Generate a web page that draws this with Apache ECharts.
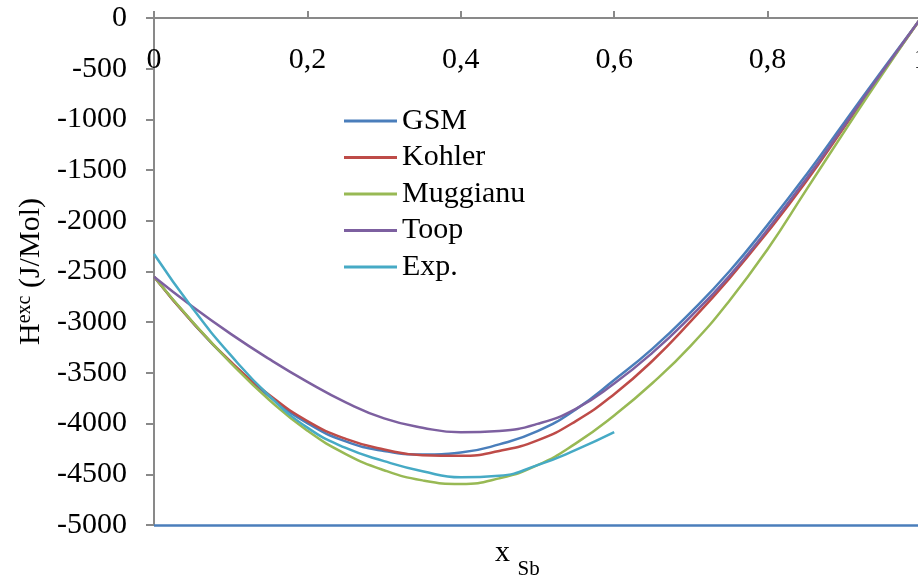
<!DOCTYPE html>
<html>
<head>
<meta charset="utf-8">
<script src="https://cdn.jsdelivr.net/npm/echarts@6/dist/echarts.min.js"></script>
<style>
  html, body { margin: 0; padding: 0; background: #fff; }
  #chart { width: 918px; height: 585px; }
</style>
</head>
<body>
<div id="chart"></div>
<script>
// Hexc vs x Sb - model curves and experimental data
var xs = [0, 0.05, 0.1, 0.15, 0.2, 0.25, 0.3, 0.35, 0.4, 0.45, 0.5, 0.55, 0.6, 0.65, 0.7, 0.75, 0.8, 0.85, 0.9, 0.95, 1];
var gsm = [-2551, -3000, -3395, -3730, -3995, -4175, -4270, -4305, -4285, -4205, -4075, -3860, -3570, -3260, -2900, -2500, -2040, -1550, -1030, -510, 0];
var kohler = [-2551, -3000, -3390, -3715, -3975, -4150, -4255, -4312, -4318, -4270, -4165, -3975, -3710, -3380, -2990, -2570, -2110, -1615, -1075, -535, 0];
var muggianu = [-2551, -2995, -3400, -3765, -4070, -4300, -4460, -4560, -4595, -4540, -4410, -4195, -3920, -3600, -3230, -2790, -2280, -1700, -1120, -550, 0];
var toop = [-2551, -2845, -3115, -3362, -3588, -3790, -3948, -4040, -4085, -4072, -4003, -3855, -3605, -3300, -2942, -2545, -2085, -1590, -1060, -525, 0];
var xsExp = [0, 0.05, 0.1, 0.15, 0.2, 0.25, 0.3, 0.35, 0.4, 0.45, 0.5, 0.55, 0.6];
var exp = [-2327, -2860, -3325, -3725, -4040, -4240, -4370, -4470, -4530, -4515, -4410, -4260, -4085];
var baseLine = -5000;

var names = ['GSM', 'Kohler', 'Muggianu', 'Toop', 'Exp.'];
var colors = ['#4a7ebb', '#be4b48', '#98b954', '#7d60a0', '#46aac5'];
var font = 'Liberation Serif';

function pairs(x, y) { return x.map(function (v, i) { return [v, y[i]]; }); }

var chart = echarts.init(document.getElementById('chart'), null, { renderer: 'canvas' });

function line(i, x, y) {
  return {
    name: names[i], type: 'line', data: pairs(x, y), smooth: 0.5, symbol: 'none',
    lineStyle: { color: colors[i], width: 2.5 }, itemStyle: { color: colors[i] }, z: 3
  };
}

var gsmSeries = line(0, xs, gsm);
gsmSeries.markLine = {
  silent: true, symbol: 'none', label: { show: false },
  lineStyle: { color: colors[0], width: 2.5, type: 'solid' },
  data: [{ yAxis: baseLine }]
};

chart.setOption({
  animation: false,
  backgroundColor: '#fff',
  textStyle: { fontFamily: font },
  grid: { left: 154, right: -3, top: 18, bottom: 60, outerBoundsMode: 'none' },
  legend: {
    data: names, orient: 'vertical', left: 339, top: 101,
    icon: 'rect', itemWidth: 53, itemHeight: 3, itemGap: 6.5,
    selectedMode: false,
    textStyle: { fontFamily: font, fontSize: 30, color: '#000' }
  },
  graphic: [
    {
      type: 'text', left: 495, top: 538,
      style: {
        text: '{x|x }{sub|Sb}',
        rich: {
          x: { fontFamily: font, fontSize: 30, lineHeight: 30, verticalAlign: 'top', fill: '#000' },
          sub: { fontFamily: font, fontSize: 21, lineHeight: 21, padding: [21, 0, 0, 0], verticalAlign: 'top', fill: '#000' }
        }
      }
    }
  ],
  xAxis: {
    type: 'value', position: 'top', min: 0, max: 1, interval: 0.2,
    axisLine: { onZero: false, lineStyle: { color: '#898989', width: 2 } },
    axisTick: { show: true, inside: false, length: 7, lineStyle: { color: '#898989', width: 2 } },
    axisLabel: {
      inside: true, margin: 27, color: '#000', fontFamily: font, fontSize: 30,
      formatter: function (v) { return String(+v.toFixed(1)).replace('.', ','); }
    },
    splitLine: { show: false }
  },
  yAxis: {
    type: 'value', min: -5000, max: 0, interval: 500,
    name: '{h|H}{sup|exc}{h| (J/Mol)}', nameLocation: 'middle', nameRotate: 90, nameGap: 105,
    nameTextStyle: {
      rich: {
        h: { fontFamily: font, fontSize: 30, lineHeight: 32, color: '#000' },
        sup: { fontFamily: font, fontSize: 20, lineHeight: 20, verticalAlign: 'top', color: '#000' }
      }
    },
    axisLine: { show: true, lineStyle: { color: '#898989', width: 2 } },
    axisTick: { show: true, length: 8, lineStyle: { color: '#898989', width: 2 } },
    axisLabel: {
      margin: 27, color: '#000', fontFamily: font, fontSize: 30,
      formatter: function (v) { return String(v); }
    },
    splitLine: { show: false }
  },
  series: [
    gsmSeries,
    line(1, xs, kohler),
    line(2, xs, muggianu),
    line(3, xs, toop),
    line(4, xsExp, exp)
  ]
});
</script>
</body>
</html>
